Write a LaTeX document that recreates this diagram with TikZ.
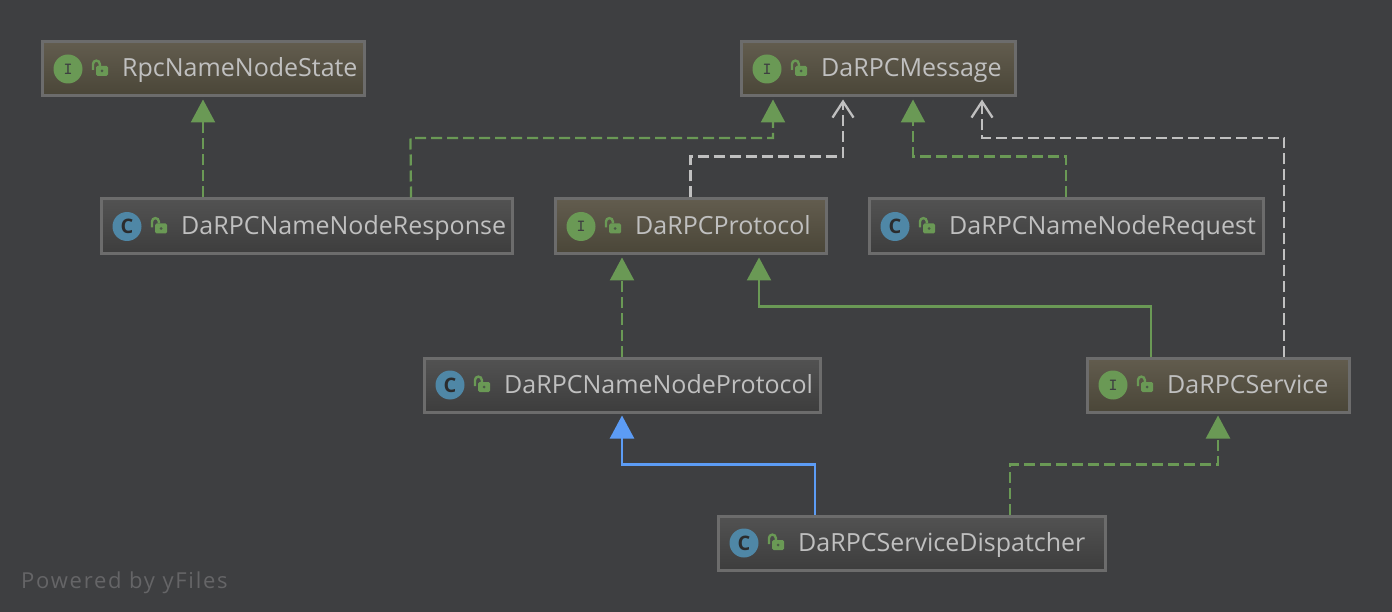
\documentclass[tikz,border=0pt]{standalone}
\usepackage{fontspec}
\setmainfont{Open Sans}
\usetikzlibrary{arrows.meta}
\definecolor{bgcol}{HTML}{3E3F41}
\definecolor{edgecol}{HTML}{6C6C6C}
\definecolor{textcol}{HTML}{C0C0C0}
\definecolor{greencol}{HTML}{6A9955}
\definecolor{bluecol}{HTML}{5C9CF5}
\definecolor{badgeblue}{HTML}{4F87A6}
\definecolor{classtop}{HTML}{525252}
\definecolor{classbottom}{HTML}{3D3D3D}
\definecolor{ifacetop}{HTML}{625C4E}
\definecolor{ifacebottom}{HTML}{4A4638}
\tikzset{
    classbox/.style={draw=edgecol, line width=3pt, top color=classtop, bottom color=classbottom},
    ifacebox/.style={classbox, top color=ifacetop, bottom color=ifacebottom},
    namelabel/.style={anchor=base west, text=textcol, inner sep=0pt, font=\fontsize{25}{28}\selectfont},
    ibadge/.style={circle, fill=greencol, minimum size=29pt, inner sep=0pt, text=bgcol, font=\fontsize{17}{18}\ttfamily\bfseries},
    cbadge/.style={circle, fill=badgeblue, minimum size=29pt, inner sep=0pt, text=bgcol!70!black, font=\fontsize{20}{20}\bfseries},
    impl/.style={draw=greencol, line width=2.3pt, dash pattern=on 11pt off 5pt, shorten >=2pt, -{Triangle[width=24pt,length=23pt,fill=greencol]}},
    ext/.style={draw=greencol, line width=2.3pt, shorten >=2pt, -{Triangle[width=24pt,length=23pt,fill=greencol]}},
    extclass/.style={draw=bluecol, line width=2.3pt, shorten >=2pt, -{Triangle[width=24pt,length=23pt,fill=bluecol]}},
    dep/.style={draw=textcol, line width=2.3pt, dash pattern=on 11pt off 5pt, shorten >=2pt, -{Straight Barb[width=21pt,length=16pt]}},
    pics/openlock/.style={code={
        \fill[greencol, rounded corners=1.5pt] (0,-3) rectangle (12,7);
        \draw[greencol, line width=2.4pt] (-3,1) -- (-3,-5) arc[start angle=180, end angle=0, x radius=3.4, y radius=-3.4] -- (3.8,-3);
        \fill[bgcol!70!greencol] (6,2) circle (1.5pt);
    }}
}
% name, box style, badge style, letter, left, right, top, bottom, text
\newcommand{\umlbox}[9]{
    \node[#2, minimum width={#6pt-#5pt-2pt}, minimum height={#8pt-#7pt-2pt}] (#1) at ({(#5+#6)/2},{(#7+#8)/2}) {};
    \node[#3] (#1badge) at (#5+27,{(#7+#8)/2}) {#4};
    \pic at (#5+55,{(#7+#8)/2}) {openlock};
    \node[namelabel] (#1name) at (#5+81,{(#7+#8)/2+8}) {#9};
}
\begin{document}
\begin{tikzpicture}[x=1pt, y=-1pt]
        \fill[bgcol] (0,0) rectangle (1392,612);
        \useasboundingbox (0,0) rectangle (1392,612);

        \umlbox{state}{ifacebox}{ibadge}{I}{41}{365}{41}{97}{RpcNameNodeState}
        \umlbox{message}{ifacebox}{ibadge}{I}{740}{1016}{41}{97}{DaRPCMessage}
        \umlbox{response}{classbox}{cbadge}{C}{100}{513}{198}{255}{DaRPCNameNodeResponse}
        \umlbox{protocol}{ifacebox}{ibadge}{I}{554}{827}{198}{255}{DaRPCProtocol}
        \umlbox{request}{classbox}{cbadge}{C}{868}{1264}{198}{255}{DaRPCNameNodeRequest}
        \umlbox{nnprotocol}{classbox}{cbadge}{C}{423}{821}{357}{413}{DaRPCNameNodeProtocol}
        \umlbox{service}{ifacebox}{ibadge}{I}{1086}{1350}{357}{413}{DaRPCService}
        \umlbox{dispatcher}{classbox}{cbadge}{C}{717}{1106}{515}{571}{DaRPCServiceDispatcher}

        \draw[impl] (response.north -| state.south) -- (state.south);
        \draw[impl] ([xshift=104.5pt]response.north) -- (410.5,138) -| ([xshift=-105pt]message.south);
        \draw[dep] (protocol.north) -- ++(0,-41) -| ([xshift=-35pt]message.south);
        \draw[impl] (request.north) -- ++(0,-41) -| ([xshift=35pt]message.south);
        \draw[dep] ([xshift=66pt]service.north) -- (1284,138) -| ([xshift=104pt]message.south);
        \draw[impl] (nnprotocol.north) -- (nnprotocol.north |- protocol.south);
        \draw[ext] ([xshift=-67pt]service.north) -- ++(0,-50) -| ([xshift=68.5pt]protocol.south);
        \draw[extclass] ([xshift=-96.5pt]dispatcher.north) -- ++(0,-50) -| (nnprotocol.south);
        \draw[impl] ([xshift=98.5pt]dispatcher.north) -- ++(0,-50) -| (service.south);

        \node[anchor=base west, inner sep=0pt, text=white!20!bgcol, font=\fontsize{22}{26}\addfontfeature{LetterSpace=8}] (powered) at (21,588) {Powered by yFiles};
\end{tikzpicture}
\end{document}
